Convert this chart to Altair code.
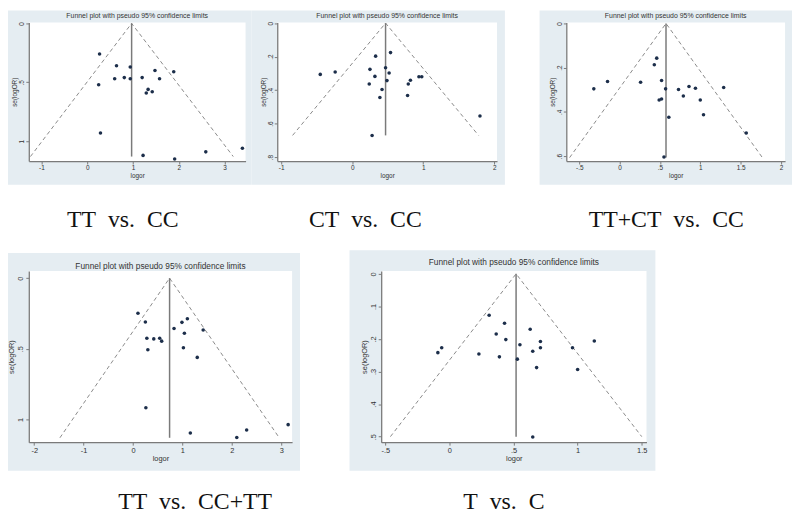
import altair as alt
import pandas as pd

TITLE = "Funnel plot with pseudo 95% confidence limits"
NB = "\u00a0"
captions = [
    f"TT{NB} vs.{NB} CC",
    f"CT{NB} vs.{NB} CC",
    f"TT+CT{NB} vs.{NB} CC",
    f"TT{NB} vs.{NB} CC+TT",
    f"T{NB} vs.{NB} C",
]

# ---- data ----
p1_logor = [0.27, 0.64, 0.94, 1.48, 1.89, 0.60, 0.81, 0.94, 1.20, 1.58, 0.25, 1.33, 1.29, 1.42, 0.29, 1.22, 1.91, 2.59, 3.39]
p1_se = [0.26, 0.36, 0.37, 0.40, 0.41, 0.47, 0.46, 0.47, 0.46, 0.47, 0.52, 0.56, 0.59, 0.58, 0.93, 1.12, 1.15, 1.09, 1.06]

p2_logor = [0.54, 0.33, -0.45, -0.24, 0.25, 0.47, 0.52, 0.32, 0.49, 0.24, 0.42, 0.39, 0.82, 0.79, 0.94, 0.98, 0.78, 1.80, 0.28]
p2_se = [0.176, 0.197, 0.306, 0.292, 0.276, 0.266, 0.298, 0.318, 0.343, 0.363, 0.396, 0.444, 0.341, 0.363, 0.320, 0.320, 0.432, 0.554, 0.671]

p3_logor = [0.46, 0.43, -0.32, -0.15, 0.26, 0.52, 0.57, 0.49, 0.52, 0.61, 0.73, 0.86, 0.79, 0.94, 1.00, 1.04, 1.29, 1.57, 0.55]
p3_se = [0.157, 0.187, 0.296, 0.263, 0.266, 0.258, 0.296, 0.346, 0.342, 0.424, 0.299, 0.285, 0.328, 0.293, 0.346, 0.413, 0.290, 0.496, 0.604]

p4_logor = [0.10, 0.25, 0.28, 0.42, 0.54, 0.58, 0.30, 0.83, 0.99, 1.10, 1.04, 1.02, 1.42, 1.30, 0.26, 1.16, 2.30, 2.10, 3.14]
p4_se = [0.248, 0.311, 0.425, 0.430, 0.425, 0.446, 0.507, 0.357, 0.313, 0.287, 0.390, 0.493, 0.367, 0.561, 0.918, 1.096, 1.075, 1.128, 1.037]

p5_logor = [0.31, 0.43, 0.63, 0.365, 0.44, 0.71, 1.13, -0.06, -0.09, 0.23, 0.39, 0.55, 0.53, 0.65, 0.71, 0.96, 0.68, 1.00, 0.65]
p5_se = [0.127, 0.152, 0.170, 0.185, 0.202, 0.208, 0.206, 0.227, 0.242, 0.246, 0.255, 0.218, 0.262, 0.238, 0.227, 0.227, 0.288, 0.294, 0.501]

# pooled estimate, max se, and pseudo-CI limits at max se
thetas = [0.97, 0.47, 0.575, 0.74, 0.52]
se_max = [1.13, 0.67, 0.607, 1.13, 0.50]
ci_lo = [-1.24, -0.84, -0.62, -1.48, -0.46]
ci_hi = [3.19, 1.78, 1.77, 2.96, 1.50]

x_ticks = [[-1, 0, 1, 2, 3], [-1, 0, 1, 2], [-0.5, 0, 0.5, 1, 1.5, 2], [-2, -1, 0, 1, 2, 3], [-0.5, 0, 0.5, 1, 1.5]]
y_ticks = [[0, 0.5, 1], [0, 0.2, 0.4, 0.6, 0.8], [0, 0.2, 0.4, 0.6], [0, 0.5, 1], [0, 0.1, 0.2, 0.3, 0.4, 0.5]]

x_domains = [[-1.276, 3.459], [-1.056, 2.040], [-0.661, 2.051], [-2.110, 3.220], [-0.532, 1.537]]
y_domains = [[-0.008, 1.168], [-0.004, 0.823], [-0.0045, 0.6225], [-0.051, 1.161], [-0.009, 0.517]]

# ---- layout (pixels) ----
layout = [
    dict(W=219, H=140, L=21, R=6, T=12, B=24, cx=95, cy=207, ty=-5, lfs=6.5, tfs=7),
    dict(W=222, H=140, L=26, R=8, T=12, B=24, cx=89, cy=207, ty=-5, lfs=6.5, tfs=7),
    dict(W=221, H=140, L=27, R=7, T=12, B=24, cx=101, cy=207, ty=-5, lfs=6.5, tfs=7),
    dict(W=266, H=173, L=21, R=8, T=18, B=29, cx=168, cy=241, ty=-2, lfs=7.5, tfs=8.4),
    dict(W=268, H=173, L=32, R=9, T=21, B=29, cx=124, cy=241, ty=-6, lfs=7.5, tfs=8.4),
]

BG = "#e5edf2"
AXC = "#7a7a7a"
TXT = "#333333"
PT = "#1c2e4a"
FONT = "Liberation Sans"
LBL = "replace(toString(datum.value), regexp('^(-?)0\\\\.'), '$1.')"

xs_all = [p1_logor, p2_logor, p3_logor, p4_logor, p5_logor]
ys_all = [p1_se, p2_se, p3_se, p4_se, p5_se]


def panel(i):
    lo = layout[i]
    W, H = lo["W"], lo["H"]
    one = pd.DataFrame({"k": [0]})
    xs = alt.Scale(domain=x_domains[i], nice=False, zero=False)
    ys = alt.Scale(domain=y_domains[i], nice=False, zero=False, reverse=True)
    common = dict(tickSize=3, tickColor=AXC, domainColor=AXC, domainWidth=1.3, tickWidth=1,
                  labelFontSize=lo["lfs"], titleFontSize=lo["lfs"], labelColor=TXT, titleColor=TXT,
                  labelFont=FONT, titleFont=FONT, titleFontWeight="normal", labelFlush=False,
                  labelOverlap=False, grid=False, labelPadding=1, titlePadding=1, zindex=1,
                  labelExpr=LBL)
    xax = alt.Axis(values=x_ticks[i], title="logor", **common)
    yax = alt.Axis(values=y_ticks[i], title="se(logOR)", labelAngle=270, labelAlign="center",
                   labelBaseline="bottom", **common)
    X = lambda f: alt.X(f, type="quantitative", scale=xs, axis=xax)
    Y = lambda f: alt.Y(f, type="quantitative", scale=ys, axis=yax)

    bg = alt.Chart(one).mark_rect(color=BG).encode(
        x=alt.value(-lo["L"]), x2=alt.value(W + lo["R"]),
        y=alt.value(-lo["T"]), y2=alt.value(H + lo["B"]))
    white = alt.Chart(one).mark_rect(color="white").encode(
        x=alt.value(0), x2=alt.value(W), y=alt.value(0), y2=alt.value(H))

    fdf = pd.DataFrame({"x": [ci_lo[i], thetas[i], ci_hi[i]],
                        "y": [se_max[i], 0.0, se_max[i]],
                        "o": [0, 1, 2]})
    funnel = alt.Chart(fdf).mark_line(color="#8a8a8a", strokeDash=[4, 3], strokeWidth=1).encode(
        x=X("x"), y=Y("y"), order=alt.Order("o:Q"))
    vdf = pd.DataFrame({"x": [thetas[i]], "y": [0.0], "y2": [se_max[i]]})
    vline = alt.Chart(vdf).mark_rule(color=AXC, strokeWidth=1.5).encode(
        x=X("x"), y=Y("y"), y2="y2:Q")
    pdf = pd.DataFrame({"x": xs_all[i], "y": ys_all[i]})
    pts = alt.Chart(pdf).mark_circle(color=PT, opacity=1, size=13).encode(x=X("x"), y=Y("y"))

    title = alt.Chart(one).mark_text(text=TITLE, font=FONT, fontSize=lo["tfs"], color=TXT,
                                     align="center", baseline="alphabetic").encode(
        x=alt.value(W / 2), y=alt.value(lo["ty"]))
    cap = alt.Chart(one).mark_text(text=captions[i], font="Liberation Serif", fontSize=24,
                                   color="#111111", align="center", baseline="alphabetic").encode(
        x=alt.value(lo["cx"]), y=alt.value(lo["cy"]))
    return alt.layer(bg, white, funnel, vline, pts, title, cap).properties(width=W, height=H)


p1, p2, p3, p4, p5 = [panel(i) for i in range(5)]
row1 = alt.hconcat(alt.hconcat(p1, p2, spacing=0), p3, spacing=35)
row2 = alt.hconcat(p4, p5, spacing=50)
chart = alt.vconcat(row1, row2, spacing=18).configure_view(stroke=None).properties(
    padding=0, background="white")

chart.save("out.html", embed_options={"renderer": "svg", "actions": False})
